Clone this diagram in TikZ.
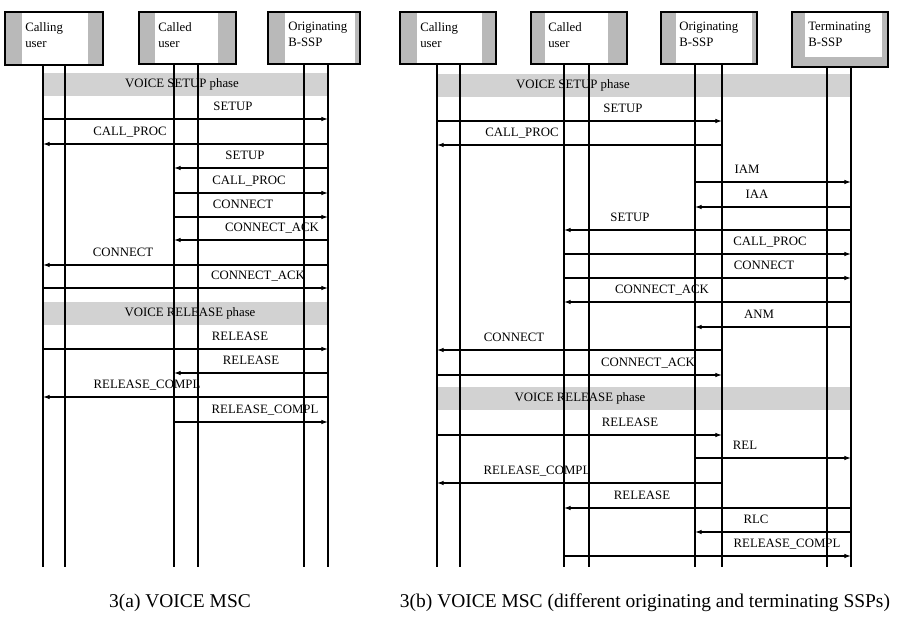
\documentclass[tikz,border=0pt]{standalone}
\usepackage{fontspec}
\setmainfont{Liberation Serif}
\usetikzlibrary{arrows.meta}

\begin{document}
\begin{tikzpicture}[x=.75pt,y=-.75pt,font=\fontsize{9.6}{12}\selectfont,
  entity/.style={draw,line width=1.8pt,fill=gray!55},
  life/.style={line width=.9pt},
  band/.style={fill=gray!35},
  msg/.style={line width=.8pt,-{Latex[length=5pt,width=3.4pt]}},
  lab/.style={inner sep=0pt,anchor=base}]
\useasboundingbox (0,0) rectangle (901,617);
% entity boxes
\foreach \n/\xa/\xb/\wa/\wb/\yb/\wy/\txt in {callL/5/103/22/88/65/64/{Calling\\user},
  cldL/139/236/155/218/64/63/{Called\\user},origL/268/360/285/355/64/63/{Originating\\B-SSP},
  callR/400/496/417/482/64/63/{Calling\\user},cldR/531/627/545/608/64/63/{Called\\user},
  origR/661/757/676/752/64/63/{Originating\\B-SSP},termR/792/888/805/882/67/57/{Terminating\\B-SSP}}{
\draw[entity] (\xa,12) rectangle (\xb,\yb);
\fill[white] (\wa,13.3) rectangle (\wb,\wy);
\node[anchor=north west,align=left,inner sep=0pt] (\n) at (\wa+3,22) {\txt};}
% phase bands
\fill[band] (43,73) rectangle (328,96);
\fill[band] (43,302) rectangle (328,325);
\fill[band] (437,74) rectangle (851,97);
\fill[band] (437,387) rectangle (851,410);
\node[inner sep=0pt] (setupL) at (182,84) {VOICE SETUP phase};
\node[inner sep=0pt] (relL) at (190,313) {VOICE RELEASE phase};
\node[inner sep=0pt] (setupR) at (573,85) {VOICE SETUP phase};
\node[inner sep=0pt] (relR) at (580,398) {VOICE RELEASE phase};
% lifelines
\foreach \n/\x/\t in {A1/43/65,A2/65/65,B1/174/64,B2/198/64,C1/304/64,C2/328/64,
  P1/437/64,P2/460/64,Q1/564/64,Q2/589/64,R1/695/64,R2/722/64,S1/827/67,S2/851/67}{
\coordinate (\n) at (\x,\t);
\draw[life] (\n) -- (\n |- 0,567);}
% 3(a) messages
\foreach \y/\f/\t/\lx/\txt in {119/A1/C2/233/SETUP,144/C2/A1/130/CALL\_PROC,
  168/C2/B1/245/SETUP,193/B1/C2/249/CALL\_PROC,217/B1/C2/243/CONNECT,
  240/C2/B1/272/CONNECT\_ACK,265/C2/A1/123/CONNECT,288/A1/C2/258/CONNECT\_ACK,
  349/A1/C2/240/RELEASE,373/C2/B1/251/RELEASE,397/C2/A1/147/RELEASE\_COMPL,
  422/B1/C2/265/RELEASE\_COMPL}{
\draw[msg] (\f |- 0,\y) -- (\t |- 0,\y);
\node[lab] (ma\y) at (\lx,\y-8.5) {\txt};}
% 3(b) messages
\foreach \y/\f/\t/\lx/\txt in {121/P1/R2/623/SETUP,145/R2/P1/522/CALL\_PROC,
  182/R1/S2/747/IAM,207/S2/R1/757/IAA,230/S2/Q1/630/SETUP,254/Q1/S2/770/CALL\_PROC,
  278/Q1/S2/764/CONNECT,302/S2/Q1/662/CONNECT\_ACK,327/S2/R1/759/ANM,
  350/R2/P1/514/CONNECT,375/P1/R2/648/CONNECT\_ACK,435/P1/R2/630/RELEASE,
  458/R1/S2/745/REL,483/R2/P1/537/RELEASE\_COMPL,508/S2/Q1/642/RELEASE,
  532/S2/R1/756/RLC,556/Q1/S2/787/RELEASE\_COMPL}{
\draw[msg] (\f |- 0,\y) -- (\t |- 0,\y);
\node[lab] (mb\y) at (\lx,\y-8.5) {\txt};}
% captions
\node[font=\fontsize{14.6}{17}\selectfont] (capA) at (180,603) {3(a) VOICE MSC};
\node[font=\fontsize{14.6}{17}\selectfont] (capB) at (645,603) {3(b) VOICE MSC (different originating and terminating SSPs)};
\end{tikzpicture}
\end{document}
